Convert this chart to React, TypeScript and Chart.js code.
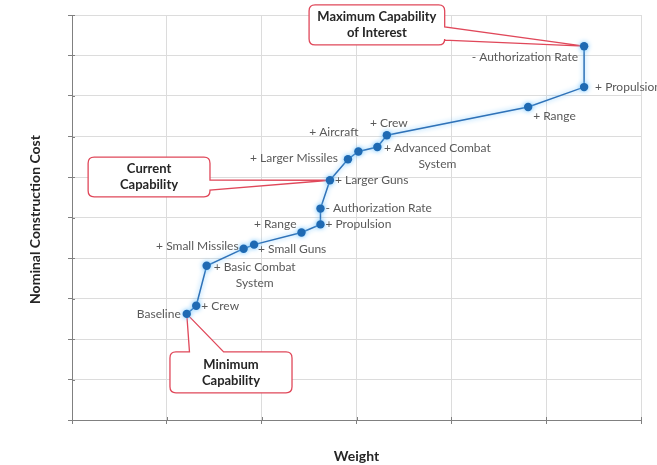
import React, { useEffect, useRef } from "react";
import { Chart, registerables } from "chart.js";

Chart.register(...registerables);

// ---- data ----
const stepLabels: string[] = [
  "Baseline",
  "+ Crew",
  "+ Basic Combat\nSystem",
  "+ Small Missiles",
  "+ Small Guns",
  "+ Range",
  "+ Propulsion",
  "- Authorization Rate",
  "+ Larger Guns",
  "+ Larger Missiles",
  "+ Aircraft",
  "+ Advanced Combat\nSystem",
  "+ Crew",
  "+ Range",
  "+ Propulsion",
  "- Authorization Rate",
];
const weightValues: number[] = [1.21, 1.31, 1.42, 1.81, 1.92, 2.42, 2.62, 2.62, 2.72, 2.91, 3.02, 3.22, 3.32, 4.81, 5.4, 5.4];
const costValues: number[] = [2.62, 2.82, 3.81, 4.23, 4.33, 4.63, 4.83, 5.22, 5.92, 6.44, 6.63, 6.74, 7.03, 7.73, 8.22, 9.23];

const xTitle = "Weight";
const yTitle = "Nominal Construction Cost";

const calloutTexts: string[][] = [["Maximum Capability", "of Interest"], ["Current", "Capability"], ["Minimum", "Capability"]];
const calloutPointIndex: number[] = [15, 8, 0];

// ---- styling / placement (not data) ----
const labelPlacement: { align: CanvasTextAlign; dx: number; dy: number }[] = [
  { align: "right", dx: -6, dy: 0 },
  { align: "left", dx: 5, dy: 0 },
  { align: "center", dx: 48, dy: 1 },
  { align: "right", dx: -5, dy: -3 },
  { align: "left", dx: 4, dy: 4 },
  { align: "right", dx: -5, dy: -8 },
  { align: "left", dx: 5, dy: 0 },
  { align: "left", dx: 5, dy: 0 },
  { align: "left", dx: 5, dy: 0 },
  { align: "right", dx: -10, dy: -1 },
  { align: "right", dx: 0, dy: -19 },
  { align: "center", dx: 60, dy: 1 },
  { align: "center", dx: 2, dy: -12 },
  { align: "left", dx: 5, dy: 9 },
  { align: "left", dx: 11, dy: 0 },
  { align: "right", dx: -6, dy: 11 },
];
// boxes in data units; wedge base as fractions along the attached side
const calloutBoxes = [
  { x0: 2.5, x1: 3.93, y0: 10.25, y1: 9.26, side: "right", f0: 0.55, f1: 0.88 },
  { x0: 0.17, x1: 1.455, y0: 6.49, y1: 5.51, side: "right", f0: 0.58, f1: 0.83 },
  { x0: 1.033, x1: 2.32, y0: 1.68, y1: 0.67, side: "top", f0: 0.16, f1: 0.44 },
];

const LABEL_FONT = "12px Lato, 'Open Sans', sans-serif";
const CALLOUT_FONT = "bold 13px Lato, 'Open Sans', sans-serif";
const TITLE_FONT = "bold 14px Lato, 'Open Sans', sans-serif";

function calloutPath(ctx: CanvasRenderingContext2D, l: number, t: number, r: number, b: number, side: string, f0: number, f1: number, tx: number, ty: number) {
  const rad = 6;
  ctx.beginPath();
  ctx.moveTo(l + rad, t);
  if (side === "top") {
    const a = l + (r - l) * f0;
    const c = l + (r - l) * f1;
    ctx.lineTo(a, t);
    ctx.lineTo(tx, ty);
    ctx.lineTo(c, t);
  }
  ctx.lineTo(r - rad, t);
  ctx.quadraticCurveTo(r, t, r, t + rad);
  if (side === "right") {
    const a = t + (b - t) * f0;
    const c = t + (b - t) * f1;
    ctx.lineTo(r, a);
    ctx.lineTo(tx, ty);
    ctx.lineTo(r, c);
  }
  ctx.lineTo(r, b - rad);
  ctx.quadraticCurveTo(r, b, r - rad, b);
  ctx.lineTo(l + rad, b);
  ctx.quadraticCurveTo(l, b, l, b - rad);
  ctx.lineTo(l, t + rad);
  ctx.quadraticCurveTo(l, t, l + rad, t);
  ctx.closePath();
}

const overlayPlugin = {
  id: "overlay",
  beforeDatasetsDraw(chart: any) {
    const ctx: CanvasRenderingContext2D = chart.ctx;
    const xs = chart.scales.x;
    const ys = chart.scales.y;
    const area = chart.chartArea;
    const meta = chart.getDatasetMeta(0);
    // inner half of the crossing tick marks
    ctx.save();
    ctx.strokeStyle = "#808080";
    ctx.lineWidth = 1;
    ctx.beginPath();
    xs.ticks.forEach((t: any) => {
      const px = Math.round(xs.getPixelForValue(t.value)) + 0.5;
      ctx.moveTo(px, area.bottom);
      ctx.lineTo(px, area.bottom - 3);
    });
    ys.ticks.forEach((t: any) => {
      const py = Math.round(ys.getPixelForValue(t.value)) + 0.5;
      ctx.moveTo(area.left, py);
      ctx.lineTo(area.left + 3, py);
    });
    ctx.stroke();
    ctx.restore();

    // callouts (beneath the data points)
    calloutBoxes.forEach((bx, i) => {
      const pt = meta.data[calloutPointIndex[i]];
      const l = xs.getPixelForValue(bx.x0);
      const r = xs.getPixelForValue(bx.x1);
      const t = ys.getPixelForValue(bx.y0);
      const b = ys.getPixelForValue(bx.y1);
      ctx.save();
      calloutPath(ctx, l, t, r, b, bx.side, bx.f0, bx.f1, pt.x, pt.y);
      ctx.fillStyle = "#ffffff";
      ctx.fill();
      ctx.lineWidth = 1.3;
      ctx.strokeStyle = "#e0485a";
      ctx.stroke();
      ctx.font = CALLOUT_FONT;
      ctx.fillStyle = "#262626";
      ctx.textAlign = "center";
      ctx.textBaseline = "middle";
      const lines = calloutTexts[i];
      const cx = (l + r) / 2;
      const cy = (t + b) / 2;
      lines.forEach((ln, k) => {
        ctx.fillText(ln, cx, cy + (k - (lines.length - 1) / 2) * 16);
      });
      ctx.restore();
    });
  },
  beforeDatasetDraw(chart: any) {
    const ctx = chart.ctx;
    ctx.save();
    ctx.shadowColor = "rgba(110,195,255,0.95)";
    ctx.shadowBlur = 5;
  },
  afterDatasetDraw(chart: any) {
    chart.ctx.restore();
  },
  afterDraw(chart: any) {
    const ctx: CanvasRenderingContext2D = chart.ctx;
    const meta = chart.getDatasetMeta(0);
    const area = chart.chartArea;

    // point labels
    ctx.save();
    ctx.font = LABEL_FONT;
    ctx.fillStyle = "#595959";
    ctx.textBaseline = "middle";
    meta.data.forEach((pt: any, i: number) => {
      const p = labelPlacement[i];
      ctx.textAlign = p.align;
      const lines = stepLabels[i].split("\n");
      if (lines.length > 1) {
        ctx.textAlign = "center";
      }
      lines.forEach((ln, k) => {
        ctx.fillText(ln, pt.x + p.dx, pt.y + p.dy + k * 16);
      });
    });
    ctx.restore();

    // axis titles
    ctx.save();
    ctx.font = TITLE_FONT;
    ctx.fillStyle = "#262626";
    ctx.textAlign = "center";
    ctx.textBaseline = "middle";
    ctx.fillText(xTitle, (area.left + area.right) / 2, 456);
    ctx.translate(35, (area.top + area.bottom) / 2 + 2);
    ctx.rotate(-Math.PI / 2);
    ctx.fillText(yTitle, 0, 0);
    ctx.restore();
  },
};

export default function App() {
  const ref = useRef<HTMLCanvasElement>(null);
  useEffect(() => {
    if (!ref.current) return;
    const chart = new Chart(ref.current, {
      type: "scatter",
      data: {
        datasets: [
          {
            data: weightValues.map((w, i) => ({ x: w, y: costValues[i] })),
            showLine: true,
            borderColor: "#2f72b8",
            borderWidth: 1.5,
            pointRadius: 4.2,
            pointBackgroundColor: "#1f6ab3",
            pointBorderColor: "#1f6ab3",
            pointBorderWidth: 0,
          },
        ],
      },
      options: {
        animation: false,
        responsive: false,
        devicePixelRatio: 1,
        layout: { padding: { left: 0, top: 15, right: 16, bottom: 0 } },
        plugins: { legend: { display: false }, tooltip: { enabled: false } },
        scales: {
          x: {
            type: "linear",
            min: 0,
            max: 6,
            ticks: { stepSize: 1, display: false },
            grid: { color: "#dcdcdc", tickLength: 4, tickColor: "#808080" },
            border: { color: "#808080", width: 1 },
            afterFit: (s: any) => {
              s.height = 45;
            },
          },
          y: {
            type: "linear",
            min: 0,
            max: 10,
            ticks: { stepSize: 1, display: false },
            grid: { color: "#dcdcdc", tickLength: 4, tickColor: "#808080" },
            border: { color: "#808080", width: 1 },
            afterFit: (s: any) => {
              s.width = 72;
            },
          },
        },
      },
      plugins: [overlayPlugin],
    } as any);
    return () => chart.destroy();
  }, []);
  return (
    <div style={{ position: "fixed", left: 0, top: 0, width: 657, height: 465, background: "#fff" }}>
      <canvas ref={ref} width={657} height={465} style={{ width: 657, height: 465 }} />
    </div>
  );
}
